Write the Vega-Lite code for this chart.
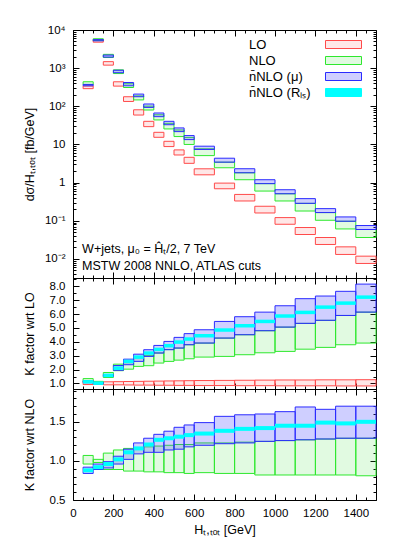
{
  "$schema": "https://vega.github.io/schema/vega-lite/v6.json",
  "background": "white",
  "padding": {"left": 22, "top": 23, "right": 5, "bottom": 5},
  "autosize": {"type": "pad"},
  "spacing": 0,
  "bounds": "flush",
  "config": {
    "font": "Liberation Sans",
    "view": {"stroke": "black", "strokeWidth": 1},
    "axis": {"grid": false, "domain": false, "tickColor": "black", "labelColor": "black", "titleColor": "black", "labelFont": "Liberation Sans", "titleFont": "Liberation Sans", "labelFontSize": 11.5, "titleFontSize": 12.5, "titleFontWeight": "normal", "labelFlush": false, "labelOverlap": false, "tickWidth": 1},
    "axisY": {"minExtent": 30, "maxExtent": 30, "titlePadding": 7, "labelPadding": 14},
    "axisX": {"labelPadding": 13, "titlePadding": 2}
  },
  "datasets": {
    "xs": [
      {"s": "LO", "a": 50, "b": 100, "lo": 290, "hi": 340},
      {"s": "LO", "a": 100, "b": 150, "lo": 4800, "hi": 5400},
      {"s": "LO", "a": 150, "b": 200, "lo": 1200, "hi": 1480},
      {"s": "LO", "a": 200, "b": 250, "lo": 338, "hi": 439},
      {"s": "LO", "a": 250, "b": 300, "lo": 134, "hi": 178},
      {"s": "LO", "a": 300, "b": 350, "lo": 59, "hi": 81},
      {"s": "LO", "a": 350, "b": 400, "lo": 29.3, "hi": 40.4},
      {"s": "LO", "a": 400, "b": 450, "lo": 15.4, "hi": 20.8},
      {"s": "LO", "a": 450, "b": 500, "lo": 8.8, "hi": 12.1},
      {"s": "LO", "a": 500, "b": 550, "lo": 5.3, "hi": 7.2},
      {"s": "LO", "a": 550, "b": 600, "lo": 3.2, "hi": 4.6},
      {"s": "LO", "a": 600, "b": 700, "lo": 1.6, "hi": 2.3},
      {"s": "LO", "a": 700, "b": 800, "lo": 0.69, "hi": 0.97},
      {"s": "LO", "a": 800, "b": 900, "lo": 0.33, "hi": 0.49},
      {"s": "LO", "a": 900, "b": 1000, "lo": 0.16, "hi": 0.24},
      {"s": "LO", "a": 1000, "b": 1100, "lo": 0.081, "hi": 0.121},
      {"s": "LO", "a": 1100, "b": 1200, "lo": 0.0436, "hi": 0.0665},
      {"s": "LO", "a": 1200, "b": 1300, "lo": 0.0239, "hi": 0.0364},
      {"s": "LO", "a": 1300, "b": 1400, "lo": 0.0131, "hi": 0.0207},
      {"s": "LO", "a": 1400, "b": 1500, "lo": 0.0076, "hi": 0.0118},
      {"s": "NLO", "a": 50, "b": 100, "lo": 370, "hi": 440},
      {"s": "NLO", "a": 100, "b": 150, "lo": 5300, "hi": 5900},
      {"s": "NLO", "a": 150, "b": 200, "lo": 1900, "hi": 2300},
      {"s": "NLO", "a": 200, "b": 250, "lo": 722, "hi": 903},
      {"s": "NLO", "a": 250, "b": 300, "lo": 311, "hi": 390},
      {"s": "NLO", "a": 300, "b": 350, "lo": 147, "hi": 187},
      {"s": "NLO", "a": 350, "b": 400, "lo": 80, "hi": 101},
      {"s": "NLO", "a": 400, "b": 450, "lo": 43.9, "hi": 60},
      {"s": "NLO", "a": 450, "b": 500, "lo": 25.5, "hi": 35.8},
      {"s": "NLO", "a": 500, "b": 550, "lo": 16.1, "hi": 24},
      {"s": "NLO", "a": 550, "b": 600, "lo": 10, "hi": 15.3},
      {"s": "NLO", "a": 600, "b": 700, "lo": 5.1, "hi": 7.7},
      {"s": "NLO", "a": 700, "b": 800, "lo": 2.45, "hi": 3.43},
      {"s": "NLO", "a": 800, "b": 900, "lo": 1.19, "hi": 1.81},
      {"s": "NLO", "a": 900, "b": 1000, "lo": 0.6, "hi": 0.94},
      {"s": "NLO", "a": 1000, "b": 1100, "lo": 0.33, "hi": 0.51},
      {"s": "NLO", "a": 1100, "b": 1200, "lo": 0.18, "hi": 0.286},
      {"s": "NLO", "a": 1200, "b": 1300, "lo": 0.103, "hi": 0.164},
      {"s": "NLO", "a": 1300, "b": 1400, "lo": 0.061, "hi": 0.097},
      {"s": "NLO", "a": 1400, "b": 1500, "lo": 0.0364, "hi": 0.059},
      {"s": "n\u0304NLO (\u03bc)", "a": 50, "b": 100, "lo": 345, "hi": 375},
      {"s": "n\u0304NLO (\u03bc)", "a": 100, "b": 150, "lo": 5200, "hi": 5600},
      {"s": "n\u0304NLO (\u03bc)", "a": 150, "b": 200, "lo": 1950, "hi": 2200},
      {"s": "n\u0304NLO (\u03bc)", "a": 200, "b": 250, "lo": 760, "hi": 880},
      {"s": "n\u0304NLO (\u03bc)", "a": 250, "b": 300, "lo": 345, "hi": 421},
      {"s": "n\u0304NLO (\u03bc)", "a": 300, "b": 350, "lo": 178, "hi": 209},
      {"s": "n\u0304NLO (\u03bc)", "a": 350, "b": 400, "lo": 93.6, "hi": 115},
      {"s": "n\u0304NLO (\u03bc)", "a": 400, "b": 450, "lo": 53.5, "hi": 66.8},
      {"s": "n\u0304NLO (\u03bc)", "a": 450, "b": 500, "lo": 32.9, "hi": 40.4},
      {"s": "n\u0304NLO (\u03bc)", "a": 500, "b": 550, "lo": 21.7, "hi": 27.1},
      {"s": "n\u0304NLO (\u03bc)", "a": 550, "b": 600, "lo": 13.4, "hi": 17.1},
      {"s": "n\u0304NLO (\u03bc)", "a": 600, "b": 700, "lo": 7.4, "hi": 9.0},
      {"s": "n\u0304NLO (\u03bc)", "a": 700, "b": 800, "lo": 3.43, "hi": 4.36},
      {"s": "n\u0304NLO (\u03bc)", "a": 800, "b": 900, "lo": 1.81, "hi": 2.31},
      {"s": "n\u0304NLO (\u03bc)", "a": 900, "b": 1000, "lo": 0.94, "hi": 1.19},
      {"s": "n\u0304NLO (\u03bc)", "a": 1000, "b": 1100, "lo": 0.51, "hi": 0.65},
      {"s": "n\u0304NLO (\u03bc)", "a": 1100, "b": 1200, "lo": 0.286, "hi": 0.38},
      {"s": "n\u0304NLO (\u03bc)", "a": 1200, "b": 1300, "lo": 0.164, "hi": 0.208},
      {"s": "n\u0304NLO (\u03bc)", "a": 1300, "b": 1400, "lo": 0.097, "hi": 0.126},
      {"s": "n\u0304NLO (\u03bc)", "a": 1400, "b": 1500, "lo": 0.059, "hi": 0.075}
    ],
    "klo": [
      {"s": "LO", "a": 50, "b": 100, "lo": 0.92, "hi": 1.1},
      {"s": "LO", "a": 100, "b": 150, "lo": 0.93, "hi": 1.08},
      {"s": "LO", "a": 150, "b": 200, "lo": 0.9, "hi": 1.12},
      {"s": "LO", "a": 200, "b": 250, "lo": 0.9, "hi": 1.13},
      {"s": "LO", "a": 250, "b": 300, "lo": 0.89, "hi": 1.14},
      {"s": "LO", "a": 300, "b": 350, "lo": 0.88, "hi": 1.15},
      {"s": "LO", "a": 350, "b": 400, "lo": 0.88, "hi": 1.16},
      {"s": "LO", "a": 400, "b": 450, "lo": 0.87, "hi": 1.17},
      {"s": "LO", "a": 450, "b": 500, "lo": 0.87, "hi": 1.18},
      {"s": "LO", "a": 500, "b": 550, "lo": 0.86, "hi": 1.19},
      {"s": "LO", "a": 550, "b": 600, "lo": 0.86, "hi": 1.2},
      {"s": "LO", "a": 600, "b": 700, "lo": 0.85, "hi": 1.21},
      {"s": "LO", "a": 700, "b": 800, "lo": 0.85, "hi": 1.22},
      {"s": "LO", "a": 800, "b": 900, "lo": 0.84, "hi": 1.23},
      {"s": "LO", "a": 900, "b": 1000, "lo": 0.84, "hi": 1.24},
      {"s": "LO", "a": 1000, "b": 1100, "lo": 0.83, "hi": 1.25},
      {"s": "LO", "a": 1100, "b": 1200, "lo": 0.83, "hi": 1.25},
      {"s": "LO", "a": 1200, "b": 1300, "lo": 0.83, "hi": 1.26},
      {"s": "LO", "a": 1300, "b": 1400, "lo": 0.82, "hi": 1.26},
      {"s": "LO", "a": 1400, "b": 1500, "lo": 0.82, "hi": 1.27},
      {"s": "NLO", "a": 50, "b": 100, "lo": 1.1, "hi": 1.35},
      {"s": "NLO", "a": 100, "b": 150, "lo": 1.0, "hi": 1.15},
      {"s": "NLO", "a": 150, "b": 200, "lo": 1.43, "hi": 1.79},
      {"s": "NLO", "a": 200, "b": 250, "lo": 1.92, "hi": 2.39},
      {"s": "NLO", "a": 250, "b": 300, "lo": 2.03, "hi": 2.5},
      {"s": "NLO", "a": 300, "b": 350, "lo": 2.23, "hi": 2.85},
      {"s": "NLO", "a": 350, "b": 400, "lo": 2.28, "hi": 3.0},
      {"s": "NLO", "a": 400, "b": 450, "lo": 2.47, "hi": 3.2},
      {"s": "NLO", "a": 450, "b": 500, "lo": 2.59, "hi": 3.45},
      {"s": "NLO", "a": 500, "b": 550, "lo": 2.68, "hi": 3.55},
      {"s": "NLO", "a": 550, "b": 600, "lo": 2.78, "hi": 3.79},
      {"s": "NLO", "a": 600, "b": 700, "lo": 2.9, "hi": 3.91},
      {"s": "NLO", "a": 700, "b": 800, "lo": 2.95, "hi": 4.27},
      {"s": "NLO", "a": 800, "b": 900, "lo": 3.07, "hi": 4.51},
      {"s": "NLO", "a": 900, "b": 1000, "lo": 3.21, "hi": 4.8},
      {"s": "NLO", "a": 1000, "b": 1100, "lo": 3.31, "hi": 5.06},
      {"s": "NLO", "a": 1100, "b": 1200, "lo": 3.47, "hi": 5.33},
      {"s": "NLO", "a": 1200, "b": 1300, "lo": 3.6, "hi": 5.55},
      {"s": "NLO", "a": 1300, "b": 1400, "lo": 3.79, "hi": 5.9},
      {"s": "NLO", "a": 1400, "b": 1500, "lo": 3.91, "hi": 6.14},
      {"s": "n\u0304NLO (\u03bc)", "a": 50, "b": 100, "lo": 1.05, "hi": 1.2},
      {"s": "n\u0304NLO (\u03bc)", "a": 100, "b": 150, "lo": 0.97, "hi": 1.07},
      {"s": "n\u0304NLO (\u03bc)", "a": 150, "b": 200, "lo": 1.5, "hi": 1.65},
      {"s": "n\u0304NLO (\u03bc)", "a": 200, "b": 250, "lo": 1.95, "hi": 2.29},
      {"s": "n\u0304NLO (\u03bc)", "a": 250, "b": 300, "lo": 2.35, "hi": 2.75},
      {"s": "n\u0304NLO (\u03bc)", "a": 300, "b": 350, "lo": 2.59, "hi": 3.11},
      {"s": "n\u0304NLO (\u03bc)", "a": 350, "b": 400, "lo": 2.95, "hi": 3.43},
      {"s": "n\u0304NLO (\u03bc)", "a": 400, "b": 450, "lo": 3.19, "hi": 3.74},
      {"s": "n\u0304NLO (\u03bc)", "a": 450, "b": 500, "lo": 3.43, "hi": 4.03},
      {"s": "n\u0304NLO (\u03bc)", "a": 500, "b": 550, "lo": 3.55, "hi": 4.32},
      {"s": "n\u0304NLO (\u03bc)", "a": 550, "b": 600, "lo": 3.79, "hi": 4.59},
      {"s": "n\u0304NLO (\u03bc)", "a": 600, "b": 700, "lo": 3.91, "hi": 4.87},
      {"s": "n\u0304NLO (\u03bc)", "a": 700, "b": 800, "lo": 4.27, "hi": 5.47},
      {"s": "n\u0304NLO (\u03bc)", "a": 800, "b": 900, "lo": 4.51, "hi": 5.81},
      {"s": "n\u0304NLO (\u03bc)", "a": 900, "b": 1000, "lo": 4.8, "hi": 6.14},
      {"s": "n\u0304NLO (\u03bc)", "a": 1000, "b": 1100, "lo": 5.06, "hi": 6.6},
      {"s": "n\u0304NLO (\u03bc)", "a": 1100, "b": 1200, "lo": 5.33, "hi": 7.11},
      {"s": "n\u0304NLO (\u03bc)", "a": 1200, "b": 1300, "lo": 5.55, "hi": 7.3},
      {"s": "n\u0304NLO (\u03bc)", "a": 1300, "b": 1400, "lo": 5.9, "hi": 7.64},
      {"s": "n\u0304NLO (\u03bc)", "a": 1400, "b": 1500, "lo": 6.14, "hi": 8.16}
    ],
    "clo": [
      {"a": 50, "b": 100, "c": 1.12},
      {"a": 100, "b": 150, "c": 1.02},
      {"a": 150, "b": 200, "c": 1.58},
      {"a": 200, "b": 250, "c": 2.1},
      {"a": 250, "b": 300, "c": 2.59},
      {"a": 300, "b": 350, "c": 2.9},
      {"a": 350, "b": 400, "c": 3.19},
      {"a": 400, "b": 450, "c": 3.45},
      {"a": 450, "b": 500, "c": 3.72},
      {"a": 500, "b": 550, "c": 3.98},
      {"a": 550, "b": 600, "c": 4.2},
      {"a": 600, "b": 700, "c": 4.44},
      {"a": 700, "b": 800, "c": 4.85},
      {"a": 800, "b": 900, "c": 5.16},
      {"a": 900, "b": 1000, "c": 5.47},
      {"a": 1000, "b": 1100, "c": 5.86},
      {"a": 1100, "b": 1200, "c": 6.12},
      {"a": 1200, "b": 1300, "c": 6.5},
      {"a": 1300, "b": 1400, "c": 6.79},
      {"a": 1400, "b": 1500, "c": 7.22}
    ],
    "knlo": [
      {"s": "NLO", "a": 50, "b": 100, "lo": 0.96, "hi": 1.07},
      {"s": "NLO", "a": 100, "b": 150, "lo": 0.98, "hi": 1.02},
      {"s": "NLO", "a": 150, "b": 200, "lo": 0.89, "hi": 1.1},
      {"s": "NLO", "a": 200, "b": 250, "lo": 0.89, "hi": 1.14},
      {"s": "NLO", "a": 250, "b": 300, "lo": 0.87, "hi": 1.16},
      {"s": "NLO", "a": 300, "b": 350, "lo": 0.87, "hi": 1.17},
      {"s": "NLO", "a": 350, "b": 400, "lo": 0.86, "hi": 1.18},
      {"s": "NLO", "a": 400, "b": 450, "lo": 0.86, "hi": 1.19},
      {"s": "NLO", "a": 450, "b": 500, "lo": 0.85, "hi": 1.2},
      {"s": "NLO", "a": 500, "b": 550, "lo": 0.85, "hi": 1.21},
      {"s": "NLO", "a": 550, "b": 600, "lo": 0.84, "hi": 1.21},
      {"s": "NLO", "a": 600, "b": 700, "lo": 0.85, "hi": 1.23},
      {"s": "NLO", "a": 700, "b": 800, "lo": 0.84, "hi": 1.23},
      {"s": "NLO", "a": 800, "b": 900, "lo": 0.84, "hi": 1.24},
      {"s": "NLO", "a": 900, "b": 1000, "lo": 0.82, "hi": 1.25},
      {"s": "NLO", "a": 1000, "b": 1100, "lo": 0.82, "hi": 1.26},
      {"s": "NLO", "a": 1100, "b": 1200, "lo": 0.82, "hi": 1.27},
      {"s": "NLO", "a": 1200, "b": 1300, "lo": 0.82, "hi": 1.28},
      {"s": "NLO", "a": 1300, "b": 1400, "lo": 0.82, "hi": 1.29},
      {"s": "NLO", "a": 1400, "b": 1500, "lo": 0.81, "hi": 1.29},
      {"s": "n\u0304NLO (\u03bc)", "a": 50, "b": 100, "lo": 0.84, "hi": 0.92},
      {"s": "n\u0304NLO (\u03bc)", "a": 100, "b": 150, "lo": 0.89, "hi": 0.96},
      {"s": "n\u0304NLO (\u03bc)", "a": 150, "b": 200, "lo": 0.91, "hi": 0.99},
      {"s": "n\u0304NLO (\u03bc)", "a": 200, "b": 250, "lo": 0.96, "hi": 1.06},
      {"s": "n\u0304NLO (\u03bc)", "a": 250, "b": 300, "lo": 1.02, "hi": 1.15},
      {"s": "n\u0304NLO (\u03bc)", "a": 300, "b": 350, "lo": 1.09, "hi": 1.23},
      {"s": "n\u0304NLO (\u03bc)", "a": 350, "b": 400, "lo": 1.11, "hi": 1.29},
      {"s": "n\u0304NLO (\u03bc)", "a": 400, "b": 450, "lo": 1.11, "hi": 1.34},
      {"s": "n\u0304NLO (\u03bc)", "a": 450, "b": 500, "lo": 1.14, "hi": 1.38},
      {"s": "n\u0304NLO (\u03bc)", "a": 500, "b": 550, "lo": 1.15, "hi": 1.43},
      {"s": "n\u0304NLO (\u03bc)", "a": 550, "b": 600, "lo": 1.18, "hi": 1.46},
      {"s": "n\u0304NLO (\u03bc)", "a": 600, "b": 700, "lo": 1.2, "hi": 1.49},
      {"s": "n\u0304NLO (\u03bc)", "a": 700, "b": 800, "lo": 1.22, "hi": 1.57},
      {"s": "n\u0304NLO (\u03bc)", "a": 800, "b": 900, "lo": 1.23, "hi": 1.59},
      {"s": "n\u0304NLO (\u03bc)", "a": 900, "b": 1000, "lo": 1.25, "hi": 1.6},
      {"s": "n\u0304NLO (\u03bc)", "a": 1000, "b": 1100, "lo": 1.26, "hi": 1.63},
      {"s": "n\u0304NLO (\u03bc)", "a": 1100, "b": 1200, "lo": 1.27, "hi": 1.69},
      {"s": "n\u0304NLO (\u03bc)", "a": 1200, "b": 1300, "lo": 1.28, "hi": 1.66},
      {"s": "n\u0304NLO (\u03bc)", "a": 1300, "b": 1400, "lo": 1.29, "hi": 1.7},
      {"s": "n\u0304NLO (\u03bc)", "a": 1400, "b": 1500, "lo": 1.29, "hi": 1.7}
    ],
    "cnlo": [
      {"a": 50, "b": 100, "c": 0.88},
      {"a": 100, "b": 150, "c": 0.92},
      {"a": 150, "b": 200, "c": 0.96},
      {"a": 200, "b": 250, "c": 1.02},
      {"a": 250, "b": 300, "c": 1.11},
      {"a": 300, "b": 350, "c": 1.16},
      {"a": 350, "b": 400, "c": 1.21},
      {"a": 400, "b": 450, "c": 1.27},
      {"a": 450, "b": 500, "c": 1.29},
      {"a": 500, "b": 550, "c": 1.31},
      {"a": 550, "b": 600, "c": 1.33},
      {"a": 600, "b": 700, "c": 1.35},
      {"a": 700, "b": 800, "c": 1.385},
      {"a": 800, "b": 900, "c": 1.41},
      {"a": 900, "b": 1000, "c": 1.42},
      {"a": 1000, "b": 1100, "c": 1.45},
      {"a": 1100, "b": 1200, "c": 1.45},
      {"a": 1200, "b": 1300, "c": 1.49},
      {"a": 1300, "b": 1400, "c": 1.48},
      {"a": 1400, "b": 1500, "c": 1.5}
    ]
  },
  "vconcat": [
    {
      "width": 303,
      "height": 248,
      "data": {"name": "xs"},
      "layer": [
        {
          "mark": {"type": "rect", "strokeWidth": 1},
          "encoding": {
            "x": {"field": "a", "type": "quantitative", "scale": {"domain": [0, 1500], "nice": false, "zero": false},
              "axis": {"orient": "bottom", "values": [0,50,100,150,200,250,300,350,400,450,500,550,600,650,700,750,800,850,900,950,1000,1050,1100,1150,1200,1250,1300,1350,1400,1450,1500], "labels": false, "title": null,
                "tickSize": {"condition": {"test": "datum.value % 200 === 0", "value": -6}, "value": -3}}},
            "x2": {"field": "b"},
            "y": {"field": "lo", "type": "quantitative", "scale": {"type": "log", "domain": [0.00316, 10000], "nice": false},
              "axis": {"orient": "left", "title": "d\u03c3/H\u209c,\u209c\u2092\u209c [fb/GeV]",
                "values": [0.004,0.005,0.006,0.007,0.008,0.009,0.01,0.02,0.03,0.04,0.05,0.06,0.07,0.08,0.09,0.1,0.2,0.3,0.4,0.5,0.6,0.7,0.8,0.9,1,2,3,4,5,6,7,8,9,10,20,30,40,50,60,70,80,90,100,200,300,400,500,600,700,800,900,1000,2000,3000,4000,5000,6000,7000,8000,9000,10000],
                "labelExpr": "datum.value === 10000 ? '10\u2074' : datum.value === 1000 ? '10\u00b3' : datum.value === 100 ? '10\u00b2' : datum.value === 10 ? '10' : datum.value === 1 ? '1' : datum.value === 0.1 ? '10\u207b\u00b9' : datum.value === 0.01 ? '10\u207b\u00b2' : ''",
                "tickSize": {"condition": {"test": "indexof([0.01,0.1,1,10,100,1000,10000], datum.value) >= 0", "value": -6}, "value": -3}}},
            "y2": {"field": "hi"},
            "fill": {"field": "s", "type": "nominal",
              "scale": {"domain": ["LO", "NLO", "n\u0304NLO (\u03bc)", "n\u0304NLO (R\u2097\u209b)"], "range": ["rgba(255,60,60,0.12)", "rgba(40,220,40,0.14)", "rgba(70,70,255,0.26)", "#00ffff"]},
              "legend": {"orient": "none", "legendX": 262, "legendY": 6, "title": null, "symbolType": "M-2.25,-0.5H2.25V0.5H-2.25Z", "symbolSize": 256, "labelOffset": -103, "labelFontSize": 13, "labelFont": "Liberation Sans", "labelColor": "black", "rowPadding": -4, "padding": 0, "symbolStrokeWidth": 1, "labelLimit": 200}},
            "stroke": {"field": "s", "type": "nominal",
              "scale": {"domain": ["LO", "NLO", "n\u0304NLO (\u03bc)", "n\u0304NLO (R\u2097\u209b)"], "range": ["#ff4a4a", "#2ee82e", "#2b2bff", "#00ffff"]},
              "legend": {"orient": "none", "legendX": 262, "legendY": 6, "title": null, "symbolType": "M-2.25,-0.5H2.25V0.5H-2.25Z", "symbolSize": 256, "labelOffset": -103, "labelFontSize": 13, "labelFont": "Liberation Sans", "labelColor": "black", "rowPadding": -4, "padding": 0, "symbolStrokeWidth": 1, "labelLimit": 200}}
          }
        },
        {
          "mark": {"type": "rect", "opacity": 0},
          "encoding": {
            "x": {"field": "a", "type": "quantitative",
              "axis": {"orient": "top", "values": [0,50,100,150,200,250,300,350,400,450,500,550,600,650,700,750,800,850,900,950,1000,1050,1100,1150,1200,1250,1300,1350,1400,1450,1500], "labels": false, "title": null, "minExtent": 0, "maxExtent": 0,
                "tickSize": {"condition": {"test": "datum.value % 200 === 0", "value": -6}, "value": -3}}},
            "x2": {"field": "b"},
            "y": {"field": "lo", "type": "quantitative",
              "axis": {"orient": "right", "title": null, "labels": false, "minExtent": 0, "maxExtent": 0,
                "values": [0.004,0.005,0.006,0.007,0.008,0.009,0.01,0.02,0.03,0.04,0.05,0.06,0.07,0.08,0.09,0.1,0.2,0.3,0.4,0.5,0.6,0.7,0.8,0.9,1,2,3,4,5,6,7,8,9,10,20,30,40,50,60,70,80,90,100,200,300,400,500,600,700,800,900,1000,2000,3000,4000,5000,6000,7000,8000,9000,10000],
                "tickSize": {"condition": {"test": "indexof([0.01,0.1,1,10,100,1000,10000], datum.value) >= 0", "value": -6}, "value": -3}}},
            "y2": {"field": "hi"}
          }
        },
        {
          "data": {"values": [{"t": "W+jets, \u03bc\u2080 = \u0124\u209c/2, 7 TeV"}]},
          "mark": {"type": "text", "align": "left", "baseline": "middle", "fontSize": 12.5, "font": "Liberation Sans", "color": "black"},
          "encoding": {
            "text": {"field": "t"},
            "x": {"datum": 45, "type": "quantitative", "axis": null},
            "y": {"datum": 0.0185, "type": "quantitative", "axis": null}
          }
        },
        {
          "data": {"values": [{"t": "MSTW 2008 NNLO, ATLAS cuts"}]},
          "mark": {"type": "text", "align": "left", "baseline": "middle", "fontSize": 12.5, "font": "Liberation Sans", "color": "black"},
          "encoding": {
            "text": {"field": "t"},
            "x": {"datum": 45, "type": "quantitative", "axis": null},
            "y": {"datum": 0.0067, "type": "quantitative", "axis": null}
          }
        }
      ],
      "resolve": {"axis": {"x": "independent", "y": "independent"}}
    },
    {
      "width": 303,
      "height": 111,
      "layer": [
        {
          "data": {"name": "klo"},
          "mark": {"type": "rect", "strokeWidth": 1},
          "encoding": {
            "x": {"field": "a", "type": "quantitative", "scale": {"domain": [0, 1500], "nice": false, "zero": false},
              "axis": {"orient": "bottom", "values": [0,50,100,150,200,250,300,350,400,450,500,550,600,650,700,750,800,850,900,950,1000,1050,1100,1150,1200,1250,1300,1350,1400,1450,1500], "labels": false, "title": null,
                "tickSize": {"condition": {"test": "datum.value % 200 === 0", "value": -6}, "value": -3}}},
            "x2": {"field": "b"},
            "y": {"field": "lo", "type": "quantitative", "scale": {"domain": [0.6, 8.6], "nice": false, "zero": false},
              "axis": {"orient": "left", "title": "K factor wrt LO",
                "values": [1,1.5,2,2.5,3,3.5,4,4.5,5,5.5,6,6.5,7,7.5,8,8.5],
                "labelExpr": "datum.value % 1 === 0 ? format(datum.value, '.1f') : ''",
                "tickSize": {"condition": {"test": "datum.value % 1 === 0", "value": -6}, "value": -3}}},
            "y2": {"field": "hi"},
            "fill": {"field": "s", "type": "nominal",
              "scale": {"domain": ["LO", "NLO", "n\u0304NLO (\u03bc)", "n\u0304NLO (R\u2097\u209b)"], "range": ["rgba(255,60,60,0.12)", "rgba(40,220,40,0.14)", "rgba(70,70,255,0.26)", "#00ffff"]}, "legend": null},
            "stroke": {"field": "s", "type": "nominal",
              "scale": {"domain": ["LO", "NLO", "n\u0304NLO (\u03bc)", "n\u0304NLO (R\u2097\u209b)"], "range": ["#ff4a4a", "#2ee82e", "#2b2bff", "#00ffff"]}, "legend": null}
          }
        },
        {
          "data": {"name": "clo"},
          "mark": {"type": "rule", "stroke": "#00ffff", "strokeWidth": 3.5},
          "encoding": {
            "x": {"field": "a", "type": "quantitative", "axis": null},
            "x2": {"field": "b"},
            "y": {"field": "c", "type": "quantitative", "axis": null}
          }
        },
        {
          "data": {"name": "klo"},
          "mark": {"type": "rect", "opacity": 0},
          "encoding": {
            "x": {"field": "a", "type": "quantitative",
              "axis": {"orient": "top", "values": [0,50,100,150,200,250,300,350,400,450,500,550,600,650,700,750,800,850,900,950,1000,1050,1100,1150,1200,1250,1300,1350,1400,1450,1500], "labels": false, "title": null, "minExtent": 0, "maxExtent": 0,
                "tickSize": {"condition": {"test": "datum.value % 200 === 0", "value": -6}, "value": -3}}},
            "x2": {"field": "b"},
            "y": {"field": "lo", "type": "quantitative",
              "axis": {"orient": "right", "title": null, "labels": false, "minExtent": 0, "maxExtent": 0,
                "values": [1,1.5,2,2.5,3,3.5,4,4.5,5,5.5,6,6.5,7,7.5,8,8.5],
                "tickSize": {"condition": {"test": "datum.value % 1 === 0", "value": -6}, "value": -3}}},
            "y2": {"field": "hi"}
          }
        }
      ],
      "resolve": {"axis": {"x": "independent", "y": "independent"}}
    },
    {
      "width": 303,
      "height": 111,
      "layer": [
        {
          "data": {"name": "knlo"},
          "mark": {"type": "rect", "strokeWidth": 1},
          "encoding": {
            "x": {"field": "a", "type": "quantitative", "scale": {"domain": [0, 1500], "nice": false, "zero": false},
              "axis": {"orient": "bottom", "values": [0,50,100,150,200,250,300,350,400,450,500,550,600,650,700,750,800,850,900,950,1000,1050,1100,1150,1200,1250,1300,1350,1400,1450,1500], "format": "d",
                "labelExpr": "datum.value % 200 === 0 ? datum.label : ''", "title": "H\u209c,\u209c\u2092\u209c [GeV]",
                "tickSize": {"condition": {"test": "datum.value % 200 === 0", "value": -6}, "value": -3}}},
            "x2": {"field": "b"},
            "y": {"field": "lo", "type": "quantitative", "scale": {"domain": [0.5, 1.92], "nice": false, "zero": false},
              "axis": {"orient": "left", "title": "K factor wrt NLO",
                "values": [0.5,0.6,0.7,0.8,0.9,1.0,1.1,1.2,1.3,1.4,1.5,1.6,1.7,1.8,1.9],
                "labelExpr": "abs(datum.value * 2 - round(datum.value * 2)) < 0.001 ? format(datum.value, '.1f') : ''",
                "tickSize": {"condition": {"test": "abs(datum.value * 2 - round(datum.value * 2)) < 0.001", "value": -6}, "value": -3}}},
            "y2": {"field": "hi"},
            "fill": {"field": "s", "type": "nominal",
              "scale": {"domain": ["LO", "NLO", "n\u0304NLO (\u03bc)", "n\u0304NLO (R\u2097\u209b)"], "range": ["rgba(255,60,60,0.12)", "rgba(40,220,40,0.14)", "rgba(70,70,255,0.26)", "#00ffff"]}, "legend": null},
            "stroke": {"field": "s", "type": "nominal",
              "scale": {"domain": ["LO", "NLO", "n\u0304NLO (\u03bc)", "n\u0304NLO (R\u2097\u209b)"], "range": ["#ff4a4a", "#2ee82e", "#2b2bff", "#00ffff"]}, "legend": null}
          }
        },
        {
          "data": {"name": "cnlo"},
          "mark": {"type": "rule", "stroke": "#00ffff", "strokeWidth": 4},
          "encoding": {
            "x": {"field": "a", "type": "quantitative", "axis": null},
            "x2": {"field": "b"},
            "y": {"field": "c", "type": "quantitative", "axis": null}
          }
        },
        {
          "data": {"name": "knlo"},
          "mark": {"type": "rect", "opacity": 0},
          "encoding": {
            "x": {"field": "a", "type": "quantitative",
              "axis": {"orient": "top", "values": [0,50,100,150,200,250,300,350,400,450,500,550,600,650,700,750,800,850,900,950,1000,1050,1100,1150,1200,1250,1300,1350,1400,1450,1500], "labels": false, "title": null, "minExtent": 0, "maxExtent": 0,
                "tickSize": {"condition": {"test": "datum.value % 200 === 0", "value": -6}, "value": -3}}},
            "x2": {"field": "b"},
            "y": {"field": "lo", "type": "quantitative",
              "axis": {"orient": "right", "title": null, "labels": false, "minExtent": 0, "maxExtent": 0,
                "values": [0.5,0.6,0.7,0.8,0.9,1.0,1.1,1.2,1.3,1.4,1.5,1.6,1.7,1.8,1.9],
                "tickSize": {"condition": {"test": "abs(datum.value * 2 - round(datum.value * 2)) < 0.001", "value": -6}, "value": -3}}},
            "y2": {"field": "hi"}
          }
        }
      ],
      "resolve": {"axis": {"x": "independent", "y": "independent"}}
    }
  ],
  "resolve": {"scale": {"fill": "independent", "stroke": "independent"}, "legend": {"fill": "independent", "stroke": "independent"}}
}
